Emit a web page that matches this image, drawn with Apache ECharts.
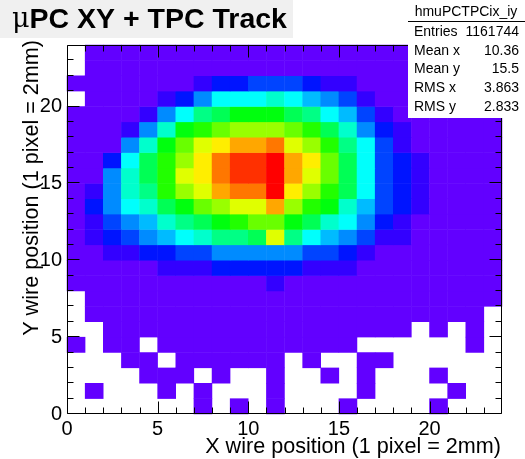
<!DOCTYPE html>
<html>
<head>
<meta charset="utf-8">
<script src="https://cdn.jsdelivr.net/npm/echarts@6/dist/echarts.min.js"></script>
<style>
  html, body { margin: 0; padding: 0; background: #ffffff; }
  #chart { width: 525px; height: 459px; }
</style>
</head>
<body>
<div id="chart"></div>
<script>
// Bin indices of the 24 x 24 wire-position histogram
const xBins = [0, 1, 2, 3, 4, 5, 6, 7, 8, 9, 10, 11, 12, 13, 14, 15, 16, 17, 18, 19, 20, 21, 22, 23];
const yBins = [0, 1, 2, 3, 4, 5, 6, 7, 8, 9, 10, 11, 12, 13, 14, 15, 16, 17, 18, 19, 20, 21, 22, 23];

// Bin contents, one array per Y wire (x = 0 .. 23); 0 = empty bin
const row00 = [0, 0, 0, 0, 0, 0, 0, 1, 0, 1, 0, 1, 0, 0, 0, 1, 0, 0, 0, 0, 1, 0, 0, 0];
const row01 = [0, 1, 0, 0, 0, 1, 0, 1, 0, 0, 0, 1, 0, 0, 0, 0, 1, 0, 0, 0, 0, 1, 0, 0];
const row02 = [0, 0, 0, 0, 1, 1, 1, 0, 2, 0, 0, 1, 0, 0, 1, 0, 1, 0, 0, 0, 1, 0, 0, 0];
const row03 = [0, 0, 0, 1, 1, 0, 2, 2, 3, 3, 3, 3, 0, 2, 0, 0, 1, 1, 0, 0, 0, 0, 0, 0];
const row04 = [1, 0, 2, 2, 0, 3, 4, 5, 6, 7, 7, 7, 7, 6, 5, 4, 0, 0, 0, 0, 0, 0, 1, 0];
const row05 = [0, 0, 2, 4, 6, 8, 11, 14, 16, 18, 20, 20, 19, 17, 14, 11, 8, 5, 3, 0, 2, 0, 1, 0];
const row06 = [0, 3, 6, 10, 15, 22, 30, 38, 45, 50, 54, 56, 52, 46, 38, 30, 21, 14, 8, 5, 3, 2, 1, 0];
const row07 = [0, 8, 18, 32, 50, 70, 95, 120, 140, 160, 170, 175, 165, 150, 125, 100, 70, 45, 25, 12, 6, 3, 2, 1];
const row08 = [12, 30, 60, 100, 150, 210, 290, 380, 470, 540, 600, 760, 560, 480, 380, 260, 150, 70, 30, 12, 6, 3, 2, 1];
const row09 = [40, 110, 230, 380, 560, 740, 960, 1180, 1450, 1620, 1700, 1720, 1600, 1300, 1050, 760, 420, 180, 70, 28, 12, 6, 3, 2];
const row10 = [110, 420, 760, 1150, 1500, 1900, 2250, 2600, 2900, 3100, 3250, 3300, 3150, 2750, 2400, 1850, 1000, 450, 190, 75, 32, 15, 8, 4];
const row11 = [160, 730, 1500, 2250, 2950, 3700, 4350, 5050, 5750, 5800, 6450, 10100, 5700, 4400, 3650, 2900, 2200, 1080, 720, 280, 110, 50, 24, 12];
const row12 = [190, 1000, 2300, 3100, 3800, 5100, 5900, 6500, 7300, 7950, 8600, 8700, 7200, 6450, 5050, 4400, 3000, 1550, 750, 330, 140, 65, 32, 16];
const row13 = [200, 1450, 3100, 4500, 5300, 6600, 7400, 8700, 9500, 10150, 10300, 11500, 9450, 8150, 7250, 5350, 3800, 2300, 1480, 760, 370, 160, 75, 38];
const row14 = [190, 820, 3150, 5150, 6150, 8000, 9550, 10250, 11600, 12450, 12600, 13650, 10950, 9700, 8350, 6600, 4550, 2500, 1600, 900, 430, 180, 85, 42];
const row15 = [170, 600, 3250, 5200, 6750, 8300, 10300, 11050, 12500, 13250, 13400, 14200, 11700, 10150, 8950, 6900, 4700, 2650, 1650, 980, 470, 200, 95, 48];
const row16 = [150, 520, 1800, 4400, 6600, 8100, 9400, 11100, 12350, 13100, 13300, 13900, 11800, 10900, 8700, 6800, 4600, 2600, 1700, 1020, 480, 210, 100, 50];
const row17 = [120, 300, 680, 3000, 5300, 7500, 8950, 10200, 11000, 11650, 11900, 12300, 10400, 9600, 8250, 6000, 4500, 2400, 1150, 560, 260, 130, 70, 36];
const row18 = [90, 210, 520, 1250, 3180, 5400, 7300, 8200, 8900, 9500, 9800, 9650, 8800, 8050, 6700, 5250, 3050, 1600, 800, 410, 210, 110, 60, 32];
const row19 = [70, 150, 290, 560, 1190, 3300, 4650, 6100, 6900, 7350, 7600, 7450, 6800, 5900, 4600, 3850, 2350, 980, 520, 270, 140, 80, 45, 25];
const row20 = [0, 60, 130, 250, 430, 760, 1690, 3120, 4500, 4820, 4900, 5110, 4700, 4050, 3300, 2500, 1010, 560, 300, 160, 90, 50, 28, 16];
const row21 = [18, 36, 70, 120, 190, 300, 480, 880, 1560, 1850, 2240, 2310, 2200, 1720, 1120, 790, 530, 330, 190, 110, 62, 36, 20, 12];
const row22 = [0, 20, 40, 62, 88, 115, 148, 180, 205, 222, 230, 226, 212, 190, 160, 128, 96, 68, 46, 30, 20, 14, 9, 6];
const row23 = [0, 12, 25, 38, 52, 70, 88, 104, 118, 126, 131, 128, 120, 106, 90, 72, 55, 40, 28, 20, 14, 10, 7, 5];

const rows = [row00, row01, row02, row03, row04, row05, row06, row07, row08, row09, row10, row11,
              row12, row13, row14, row15, row16, row17, row18, row19, row20, row21, row22, row23];

// Colour scale: maximum bin content split into 20 equal contour levels
const zMax = 14200;
const nLevels = 20;
const palette = ['#6200ff', '#3300ff', '#0014ff', '#0044ff', '#008bff', '#00bbff', '#00fffc', '#00ffcc',
                 '#00ff85', '#00ff55', '#00ff0e', '#22ff00', '#69ff00', '#99ff00', '#e0ff00', '#ffee00',
                 '#ffa700', '#ff7700', '#ff3000', '#ff0000'];

// Axis range and tick positions (same on all four sides of the frame)
const axisMin = 0;
const axisMax = 24;
const labelStep = 5;
const majorTicks = [0, 5, 10, 15, 20];
const minorTicks = [1, 2, 3, 4, 6, 7, 8, 9, 11, 12, 13, 14, 16, 17, 18, 19, 21, 22, 23];

// Statistics box
const histName = 'hmuPCTPCix_iy';
const statLabels = ['Entries', 'Mean x', 'Mean y', 'RMS x', 'RMS y'];
const statValues = ['1161744', '10.36', '15.5', '3.863', '2.833'];

const titleText = 'PC XY + TPC Track';
const xTitle = 'X wire position (1 pixel = 2mm)';
const yTitle = 'Y wire position (1 pixel = 2mm)';

// ---- build chart ----
const heatData = [];
rows.forEach((row, iy) => {
  row.forEach((v, ix) => {
    if (v > 0) heatData.push([ix, iy, v]);
  });
});

const step = zMax / nLevels;
const pieces = palette.map((c, k) => (
  k === nLevels - 1 ? { gte: k * step, lte: zMax * 2, color: c } : { gte: k * step, lt: (k + 1) * step, color: c }
));

const FONT = 'Liberation Sans, Arial, Helvetica, sans-serif';
const frame = { left: 67, top: 45, width: 435, height: 369 };
const MAJOR_LEN = 12;
const MINOR_LEN = 6;

function labelAxis(position) {
  return {
    gridIndex: 1,
    type: 'value',
    position: position,
    min: axisMin,
    max: axisMax,
    interval: labelStep,
    axisLine: { show: false, onZero: false },
    axisTick: { show: false },
    axisLabel: { show: true, color: '#000', fontSize: 20, fontFamily: FONT, margin: 5, showMaxLabel: false },
    splitLine: { show: false }
  };
}

const chart = echarts.init(document.getElementById('chart'));

chart.setOption({
  animation: false,
  grid: [Object.assign({}, frame), Object.assign({}, frame)],
  xAxis: [
    { gridIndex: 0, type: 'category', data: xBins, show: false },
    labelAxis('bottom')
  ],
  yAxis: [
    { gridIndex: 0, type: 'category', data: yBins, show: false },
    labelAxis('left')
  ],
  visualMap: {
    type: 'piecewise',
    show: false,
    seriesIndex: 0,
    dimension: 2,
    pieces: pieces
  },
  series: [{
    type: 'heatmap',
    xAxisIndex: 0,
    yAxisIndex: 0,
    data: heatData
  }]
});

// ---- frame and ticks, positioned through the value axes of the labelled grid ----
const toPx = (x, y) => chart.convertToPixel({ gridIndex: 1 }, [x, y]);
const snap = v => Math.round(v) + 0.5;

function blackLine(x1, y1, x2, y2) {
  return { type: 'line', z: 50, shape: { x1: x1, y1: y1, x2: x2, y2: y2 }, style: { stroke: '#000', lineWidth: 1 } };
}

const frameGraphics = [];
const corner0 = toPx(axisMin, axisMax);   // top-left
const corner1 = toPx(axisMax, axisMin);   // bottom-right
const fx0 = snap(corner0[0]), fy0 = snap(corner0[1]);
const fx1 = Math.round(corner1[0]) - 0.5, fy1 = Math.round(corner1[1]) - 0.5;
frameGraphics.push(blackLine(fx0, fy0, fx1, fy0));
frameGraphics.push(blackLine(fx0, fy1, fx1, fy1));
frameGraphics.push(blackLine(fx0, fy0, fx0, fy1));
frameGraphics.push(blackLine(fx1, fy0, fx1, fy1));

function addTicks(values, len) {
  values.forEach(v => {
    const px = snap(toPx(v, axisMin)[0]);
    const py = Math.round(toPx(axisMin, v)[1]) - 0.5;
    frameGraphics.push(blackLine(px, fy1, px, fy1 - len));   // bottom
    frameGraphics.push(blackLine(px, fy0, px, fy0 + len));   // top
    frameGraphics.push(blackLine(fx0, py, fx0 + len, py));   // left
    frameGraphics.push(blackLine(fx1, py, fx1 - len, py));   // right
  });
}
addTicks(majorTicks, MAJOR_LEN);
addTicks(minorTicks, MINOR_LEN);

// ---- title, statistics box and axis titles ----
const statsGraphics = [];
statLabels.forEach((lab, i) => {
  const yy = 32 + i * 18.7;
  statsGraphics.push({
    type: 'text', x: 414, y: yy, z: 101,
    style: { text: lab, fill: '#000', font: '14px ' + FONT, align: 'left', verticalAlign: 'middle' }
  });
  statsGraphics.push({
    type: 'text', x: 519, y: yy, z: 101,
    style: { text: statValues[i], fill: '#000', font: '14px ' + FONT, align: 'right', verticalAlign: 'middle' }
  });
});

chart.setOption({
  graphic: frameGraphics.concat([
    // title box
    { type: 'rect', z: 100, shape: { x: 0, y: 0, width: 293, height: 38 }, style: { fill: '#f0f0f0' } },
    {
      type: 'text', x: 12, y: 20, z: 101,
      style: {
        text: '{mu|μ}{b|' + titleText + '}',
        verticalAlign: 'middle',
        rich: {
          mu: { fontFamily: 'DejaVu Serif, Liberation Serif, serif', fontSize: 27, fill: '#000' },
          b: { fontFamily: FONT, fontWeight: 'bold', fontSize: 28.5, fill: '#000' }
        }
      }
    },
    // statistics box
    { type: 'rect', z: 100, shape: { x: 408, y: 0, width: 117, height: 118 }, style: { fill: '#ffffff' } },
    { type: 'line', z: 101, shape: { x1: 408, y1: 21.5, x2: 525, y2: 21.5 }, style: { stroke: '#000', lineWidth: 1 } },
    {
      type: 'text', x: 466, y: 12, z: 101,
      style: { text: histName, fill: '#000', font: '14px ' + FONT, align: 'center', verticalAlign: 'middle' }
    }
  ], statsGraphics, [
    // axis titles
    {
      type: 'text', x: 501, y: 447, z: 101,
      style: { text: xTitle, fill: '#000', font: '21.6px ' + FONT, align: 'right', verticalAlign: 'middle' }
    },
    {
      type: 'text', x: 32, y: 40, z: 101, rotation: Math.PI / 2,
      style: { text: yTitle, fill: '#000', font: '21.6px ' + FONT, align: 'right', verticalAlign: 'middle' }
    }
  ])
});
</script>
</body>
</html>
